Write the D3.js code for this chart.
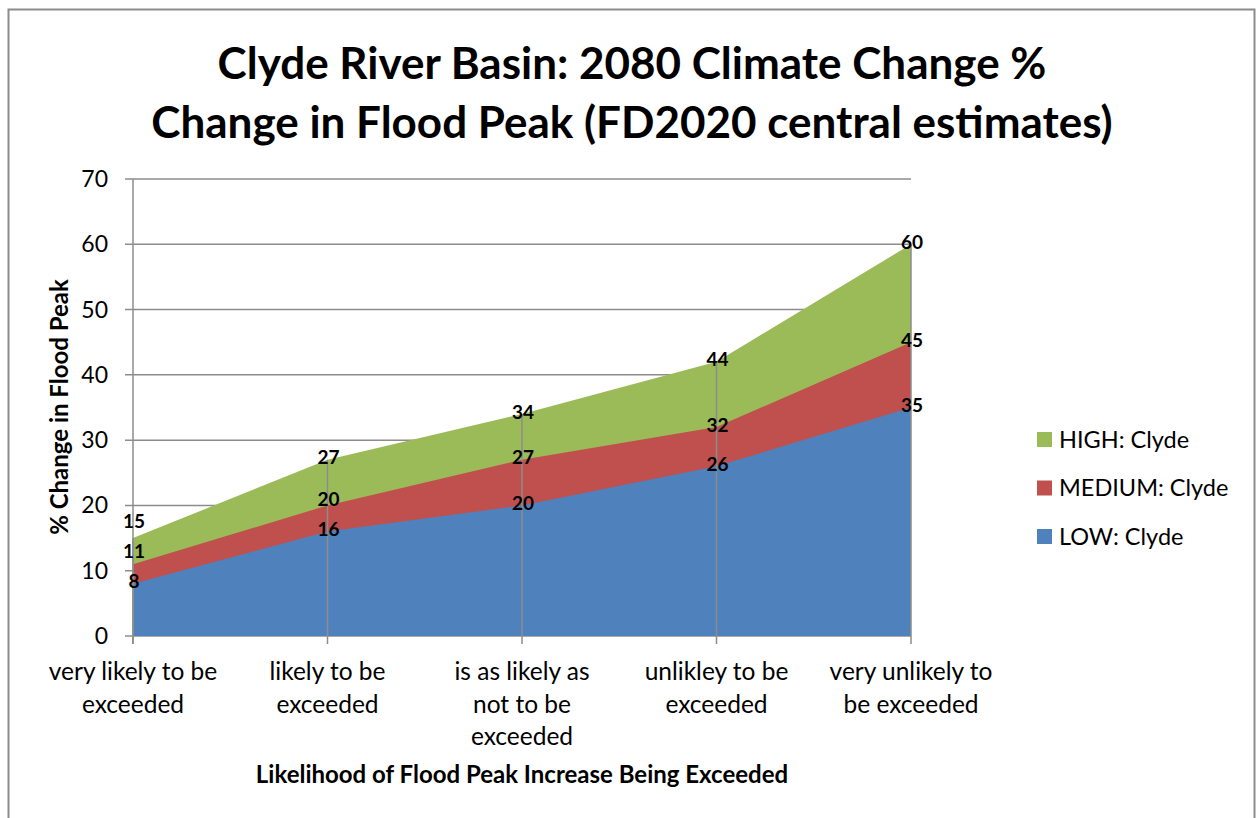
<!DOCTYPE html>
<html>
<meta charset="utf-8">
<style>
  body { margin: 0; background: #fff; }
  text { font-family: Lato, "Open Sans", sans-serif; }
</style>
<body>
<script src="https://d3js.org/d3.v7.min.js"></script>
<script>

// data
var categories = [
  ["very likely to be", "exceeded"],
  ["likely to be", "exceeded"],
  ["is as likely as", "not to be", "exceeded"],
  ["unlikley to be", "exceeded"],
  ["very unlikely to", "be exceeded"]
];
var lowValues = [8, 16, 20, 26, 35];
var mediumValues = [11, 20, 27, 32, 45];
var highValues = [15, 27, 34, 42, 60];
// printed data labels (the 4th HIGH label says 44 though the area sits at ~42)
var lowLabels = ["8", "16", "20", "26", "35"];
var mediumLabels = ["11", "20", "27", "32", "45"];
var highLabels = ["15", "27", "34", "44", "60"];
var yTicks = [0, 10, 20, 30, 40, 50, 60, 70];

var series = [
  {name: "HIGH: Clyde", values: highValues, labels: highLabels, color: "#9bbb59"},
  {name: "MEDIUM: Clyde", values: mediumValues, labels: mediumLabels, color: "#c0504d"},
  {name: "LOW: Clyde", values: lowValues, labels: lowLabels, color: "#4f81bd"}
];

var width = 1258, height = 818;
var plotLeft = 133, plotRight = 911, plotTop = 179, plotBottom = 636;

var svg = d3.select("body").append("svg")
  .attr("width", width)
  .attr("height", height);

// outer chart border (bottom runs off the page)
svg.append("path")
  .attr("d", "M8.5,818 L8.5,9.5 L1254.5,9.5 L1254.5,818")
  .attr("fill", "none")
  .attr("stroke", "#8c8c8c")
  .attr("stroke-width", 2);

var x = d3.scalePoint()
  .domain(d3.range(categories.length))
  .range([plotLeft, plotRight]);

var y = d3.scaleLinear()
  .domain([0, 70])
  .range([plotBottom, plotTop]);

// horizontal gridlines behind the areas
svg.append("g")
  .selectAll("line")
  .data(yTicks)
  .enter().append("line")
  .attr("x1", plotLeft - 8)
  .attr("x2", plotRight)
  .attr("y1", function(d) { return y(d); })
  .attr("y2", function(d) { return y(d); })
  .attr("stroke", "#8c8c8c")
  .attr("stroke-width", 1.5);

var area = d3.area()
  .x(function(d, i) { return x(i); })
  .y0(y(0))
  .y1(function(d) { return y(d); });

svg.append("g")
  .selectAll("path")
  .data(series)
  .enter().append("path")
  .attr("d", function(d) { return area(d.values); })
  .attr("fill", function(d) { return d.color; });

// y axis line
svg.append("line")
  .attr("x1", plotLeft).attr("x2", plotLeft)
  .attr("y1", plotTop).attr("y2", plotBottom + 8)
  .attr("stroke", "#8c8c8c")
  .attr("stroke-width", 1.5);

// drop lines from the highest point of each category, plus x ticks
svg.append("g")
  .selectAll("line")
  .data(highValues)
  .enter().append("line")
  .attr("x1", function(d, i) { return x(i); })
  .attr("x2", function(d, i) { return x(i); })
  .attr("y1", function(d) { return y(d); })
  .attr("y2", plotBottom + 8)
  .attr("stroke", "#8c8c8c")
  .attr("stroke-width", 1.5);

// y tick labels
svg.append("g")
  .selectAll("text")
  .data(yTicks)
  .enter().append("text")
  .attr("x", 108)
  .attr("y", function(d) { return y(d); })
  .attr("dy", "0.35em")
  .attr("text-anchor", "end")
  .style("font-size", "23px")
  .style("fill", "#000")
  .text(function(d) { return d; });

// x tick labels, wrapped as in the original
var xl = svg.append("g")
  .selectAll("text")
  .data(categories)
  .enter().append("text")
  .attr("text-anchor", "middle")
  .style("font-size", "24.5px")
  .style("fill", "#000");

xl.selectAll("tspan")
  .data(function(d, i) { return d.map(function(s) { return {s: s, i: i}; }); })
  .enter().append("tspan")
  .attr("x", function(d) { return x(d.i); })
  .attr("y", function(d, j) { return 680 + j * 32.5; })
  .text(function(d) { return d.s; });

// data labels: near each point, pushed apart within a column when crowded
var labelData = [];
categories.forEach(function(c, i) {
  var prev = Infinity;
  // bottom series first (LOW, MEDIUM, HIGH)
  series.slice().reverse().forEach(function(s) {
    var ly = Math.min(y(s.values[i]) - 2, prev - 30);
    prev = ly;
    labelData.push({i: i, ly: ly, text: s.labels[i]});
  });
});

svg.append("g")
  .selectAll("text")
  .data(labelData)
  .enter().append("text")
  .attr("x", function(d) { return x(d.i) + 1; })
  .attr("y", function(d) { return d.ly; })
  .attr("dy", "0.35em")
  .attr("text-anchor", "middle")
  .style("font-size", "19px")
  .style("font-weight", "bold")
  .style("fill", "#000")
  .text(function(d) { return d.text; });

// titles
svg.append("text")
  .attr("x", 632)
  .attr("y", 79)
  .attr("text-anchor", "middle")
  .style("font-size", "44px")
  .style("font-weight", "bold")
  .text("Clyde River Basin: 2080 Climate Change %");

svg.append("text")
  .attr("x", 632)
  .attr("y", 138)
  .attr("text-anchor", "middle")
  .style("font-size", "44px")
  .style("font-weight", "bold")
  .text("Change in Flood Peak (FD2020 central estimates)");

svg.append("text")
  .attr("x", 522)
  .attr("y", 783)
  .attr("text-anchor", "middle")
  .style("font-size", "24px")
  .style("font-weight", "bold")
  .text("Likelihood of Flood Peak Increase Being Exceeded");

svg.append("text")
  .attr("transform", "translate(68,407) rotate(-90)")
  .attr("text-anchor", "middle")
  .style("font-size", "24px")
  .style("font-weight", "bold")
  .text("% Change in Flood Peak");

// legend
var legend = svg.append("g")
  .selectAll("g")
  .data(series)
  .enter().append("g")
  .attr("transform", function(d, i) { return "translate(1037," + (432 + i * 48.5) + ")"; });

legend.append("rect")
  .attr("width", 15)
  .attr("height", 15)
  .attr("fill", function(d) { return d.color; });

legend.append("text")
  .attr("x", 22)
  .attr("y", 7.5)
  .attr("dy", "0.35em")
  .style("font-size", "23.5px")
  .text(function(d) { return d.name; });

</script>
</body>
</html>
